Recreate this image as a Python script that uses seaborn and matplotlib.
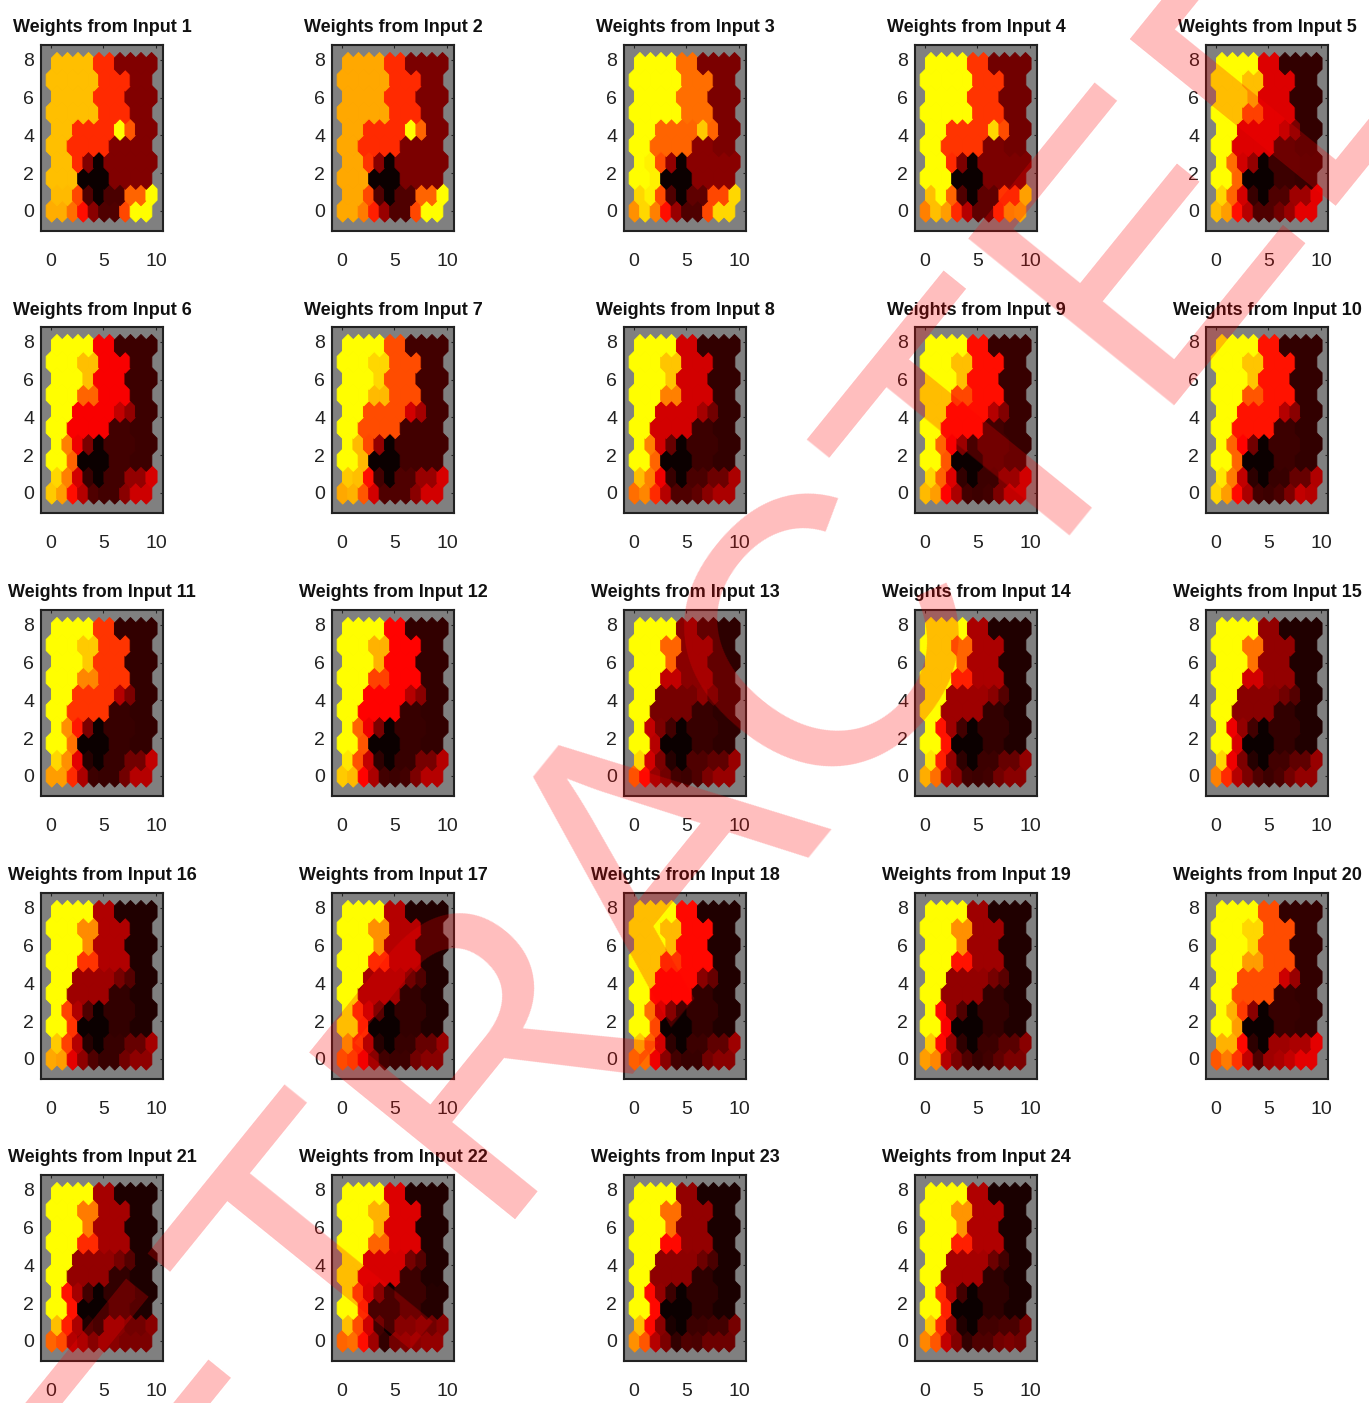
import matplotlib
matplotlib.use('Agg')
import matplotlib.pyplot as plt
from matplotlib.path import Path
import numpy as np
import pandas as pd
import seaborn as sns

sns.set_style('white')
plt.rcParams['font.family'] = ['Liberation Sans', 'DejaVu Sans']

# SOM grid: 10 x 10 neurons, each row listed from the bottom up.
# Neighbouring neurons share a colour in these planes so the cells are grouped
# into regions and each input only lists one level per region.
region_map = [
    [22, 23, 24, 25, 26, 27, 28, 29, 30, 31],
    [15, 16, 17, 18, 10, 19, 19, 20, 20, 21],
    [0, 0, 14, 10, 10, 10, 8, 8, 9, 9],
    [0, 13, 12, 11, 10, 8, 8, 8, 9, 9],
    [0, 0, 4, 4, 4, 4, 8, 8, 7, 7],
    [0, 0, 4, 4, 4, 4, 5, 6, 7, 7],
    [0, 0, 0, 2, 2, 3, 3, 3, 7, 7],
    [0, 0, 0, 1, 3, 3, 3, 7, 7, 7],
    [0, 0, 0, 1, 1, 3, 3, 3, 7, 7],
    [0, 0, 0, 0, 3, 3, 7, 7, 7, 7],
]

# colour level of every region (0 black ... 9 yellow), one list per input
input_levels = [
    [7.6, 7.6, 7.6, 5, 5, 9, 5.8, 2.1, 2.1, 2.1, 0, 2.1, 5, 7.6, 7.6, 7.5, 7.5, 5.5, 1.2, 1.1, 6, 9, 7.3, 7.3, 6.2, 4.5, 2.2, 1.2, 1.2, 5.5, 9, 9],
    [7.2, 7.2, 7.2, 5, 5, 9, 6, 2, 2, 2, 0, 2.2, 5.2, 7.2, 7.2, 7.2, 7.2, 5.5, 1.2, 1.2, 6, 9, 7.2, 7.2, 6.4, 4.8, 2.5, 1.2, 1.2, 5.5, 9, 9],
    [9, 9, 9, 6.2, 6, 7.8, 6, 2, 2.2, 2.2, 0, 2.4, 5.6, 8.5, 8.5, 8, 8.5, 5.6, 1.2, 1.5, 5.5, 8, 6.8, 8, 6.5, 4.5, 2.5, 1.2, 1.2, 5.5, 8, 8],
    [9, 9, 9, 5.2, 5.2, 8, 5.6, 1.8, 2, 2, 0, 2, 5, 9, 9, 7.6, 9, 6, 1.2, 1.5, 5.2, 8, 6.5, 7.6, 7, 5, 3, 1.5, 1.5, 5, 7, 7.2],
    [9, 7.6, 5.8, 3.7, 3.7, 3, 2, 0.7, 0.9, 0.8, 0, 2.4, 3.5, 6.2, 6, 8, 6, 3.5, 0.8, 1.2, 2.6, 3.8, 7.6, 7, 4.5, 3, 1.2, 1.2, 1.8, 2.5, 3.8, 3.8],
    [9, 7.6, 6, 4.2, 4.2, 3.2, 2.4, 0.9, 1, 0.9, 0, 2, 4, 6.5, 6, 8, 6.5, 3.5, 0.8, 1, 2.4, 3.6, 7.8, 7, 4.5, 3, 1.2, 1, 1, 2.2, 3.4, 3.4],
    [9, 8, 7.5, 5.6, 5.6, 3.5, 2.7, 1, 1, 1, 0, 2.4, 5.5, 7.5, 7.5, 7.8, 7.6, 4.5, 1, 1.2, 2.5, 3.6, 7.2, 7.4, 5.8, 3.5, 1.2, 1.2, 1.2, 2.2, 3.5, 3.5],
    [9, 7.7, 6.5, 3.5, 3.5, 2.7, 1.8, 0.7, 0.9, 0.7, 0, 1.6, 3.5, 6.5, 6, 7.6, 6.5, 4, 0.8, 1.1, 1.7, 2.8, 6.2, 6.6, 5, 3, 1.2, 1.2, 1.5, 2.2, 2.8, 2.8],
    [9, 7.6, 5.5, 4.5, 4.5, 3, 2.1, 0.8, 1, 0.8, 0, 2, 4.2, 6, 5.8, 8, 6, 3.7, 0.7, 0.9, 2, 3.2, 7.5, 7, 4.3, 2.8, 1, 0.9, 1, 2, 3.2, 3.2],
    [9, 7.7, 5.8, 4.6, 4.6, 3, 2.2, 0.7, 0.9, 0.7, 0, 1.8, 4.3, 6, 6, 8.3, 6.4, 3.2, 0.6, 0.8, 1.6, 2.9, 8, 7, 4.4, 2.8, 1, 0.9, 1.1, 2, 3.2, 3],
    [9, 7.8, 6.6, 5.2, 5.2, 3, 2, 0.7, 0.8, 0.7, 0, 2, 4.7, 6.8, 6.3, 8, 6.8, 3.8, 0.5, 0.8, 1.8, 3.2, 7, 7, 5, 2.8, 0.9, 0.8, 0.8, 1.8, 3, 3],
    [9, 7.4, 5.4, 4.3, 4.3, 3, 2.2, 0.7, 0.8, 0.7, 0, 2, 4, 6, 5.8, 8.3, 5.7, 3.2, 0.6, 0.8, 1.9, 3, 7.8, 7.5, 4.3, 2.8, 1, 0.9, 1, 2, 3, 3],
    [9, 6, 3.2, 2.2, 1.9, 2.3, 1.5, 0.6, 0.8, 0.6, 0, 1, 2, 3.2, 3, 8, 3.5, 2, 0.5, 1.2, 1.5, 2.5, 6.2, 4.5, 2.5, 1.8, 1, 0.9, 1.2, 2, 2.5, 2.5],
    [9, 6, 4.8, 2.8, 2.6, 2.2, 1.3, 0.4, 0.7, 0.4, 0, 1, 2.6, 4.6, 4.6, 8.3, 4.8, 2.4, 0.6, 0.9, 1.6, 2.4, 7.3, 6.2, 3, 2.2, 1, 0.9, 1, 1.8, 2.2, 2.2],
    [9, 6.3, 3.5, 2.4, 2.2, 1.8, 1.3, 0.4, 0.7, 0.4, 0, 1, 2.4, 4, 3.6, 8, 4, 2, 0.5, 1, 1.5, 2.5, 6.5, 5, 3, 2, 1.2, 0.9, 1.1, 1.8, 2.4, 2.4],
    [9, 6.7, 5.2, 2.9, 2.6, 1.9, 1.3, 0.4, 0.7, 0.4, 0, 1.2, 2.9, 5.4, 5.2, 7.8, 5.4, 3, 0.5, 0.8, 1.6, 2.7, 7.2, 7, 3.8, 2.3, 1.2, 0.8, 0.8, 1.8, 2.3, 2.3],
    [9, 6.8, 5, 3, 2.7, 1.8, 1.2, 0.4, 0.7, 0.4, 0, 1.4, 3.2, 5.2, 5, 7.2, 5.2, 3, 0.5, 0.8, 1.6, 2.5, 6, 5.6, 4, 2.2, 1, 0.9, 0.9, 1.8, 2.2, 2.2],
    [9, 7.5, 5.2, 4.4, 4.4, 2.2, 1.6, 0.4, 0.7, 0.4, 0, 1.5, 3.5, 6.2, 5.5, 7.8, 6, 3.5, 0.6, 0.9, 1.5, 2.6, 6.5, 6.2, 4, 2.2, 1, 0.8, 0.8, 1.8, 2.2, 2.2],
    [9, 6.8, 4.6, 2.6, 2.4, 1.9, 1.4, 0.4, 0.7, 0.4, 0, 1.2, 2.4, 4.4, 4.2, 7.8, 4.4, 2.4, 0.6, 0.9, 1.4, 2.2, 7, 6.6, 3, 2, 1.2, 0.8, 1, 1.5, 2, 2],
    [9, 8, 7, 5.6, 5.6, 3.4, 2.5, 0.7, 0.8, 0.7, 0, 2.2, 5.3, 7.4, 7, 7.4, 7.4, 4.4, 0.6, 2.6, 2.8, 3.8, 5.8, 6.4, 5.2, 3.2, 1.2, 2.6, 2.8, 3.2, 3.8, 3.8],
    [9, 6.4, 5, 2.7, 2.4, 1.9, 1.3, 0.35, 0.7, 0.35, 0, 1, 2.7, 4.6, 4.6, 7.6, 4.8, 2.8, 0.4, 2.2, 1.8, 2.2, 6, 5.6, 3, 2.4, 1.5, 2.2, 2.2, 2, 2, 2],
    [9, 7.4, 6, 3.7, 3.6, 1.9, 1.3, 0.4, 0.9, 0.5, 0, 1.6, 3.4, 5.6, 5, 7.6, 5.6, 3.4, 1, 1.5, 1.8, 2.2, 6, 6.2, 4.5, 2.6, 0.7, 1.8, 2, 2.2, 2.4, 2.4],
    [9, 6.2, 4.4, 2.4, 2.3, 1.7, 1.1, 0.3, 0.6, 0.3, 0, 0.9, 2.4, 4.4, 4.4, 7.6, 4.4, 2.2, 0.3, 0.9, 1, 1.9, 6.8, 5.8, 3, 2, 0.7, 1.2, 1.1, 1.7, 1.7, 1.7],
    [9, 6.9, 4.8, 2.9, 2.7, 1.7, 1, 0.3, 0.6, 0.3, 0, 1, 2.8, 5, 4.8, 7.8, 5, 2.3, 0.4, 1, 1.1, 1.8, 6.6, 5.8, 3.2, 2.1, 0.7, 1.2, 1.2, 1.8, 2, 1.8],
]

x_ticks = [0, 5, 10]
y_ticks = [0, 2, 4, 6, 8]

# panel positions in pixels of the 1369x1403 picture
panel_lefts = [41, 332, 624, 915, 1206]
panel_tops = [45, 327, 610, 893, 1175]
fig_w, fig_h = 1369, 1403
panel_w, panel_h = 122, 186

# hexagon stretched like the squashed screenshot (10.5 px per x unit, 18.9 px per y unit)
half_w = 0.5
shift = 0.07
hexagon = Path([(shift, 1), (half_w + shift, 0.5), (half_w + shift, -0.5), (shift, -1),
                (shift - half_w, -0.5), (shift - half_w, 0.5), (shift, 1)], closed=True)

# grid coordinates, odd rows shifted by half a cell
rows, cols = np.indices((10, 10))
grid_x = (cols + 0.5 * (rows % 2)).ravel()
grid_y = (rows * np.sqrt(3) / 2).ravel()
regions = np.array(region_map).ravel()

fig = plt.figure(figsize=(fig_w / 100, fig_h / 100), dpi=100, facecolor='white')

for n, levels in enumerate(input_levels):
    left = panel_lefts[n % 5]
    top = panel_tops[n // 5]
    ax = fig.add_axes([left / fig_w, 1 - (top + panel_h) / fig_h, panel_w / fig_w, panel_h / fig_h])

    # top level stops at pure yellow, 'hot' goes towards white beyond it
    cell_levels = np.minimum(np.array(levels)[regions], 8.7)
    df = pd.DataFrame({'x': grid_x, 'y': grid_y, 'level': cell_levels})
    sns.scatterplot(data=df, x='x', y='y', hue='level', palette='hot', hue_norm=(0, 11.7),
                    marker=hexagon, s=255, linewidth=0.7, edgecolor='face', legend=False, ax=ax)

    ax.set_facecolor('#808080')
    ax.set_xlim(-0.95, 10.67)
    ax.set_ylim(-1.06, 8.78)
    ax.set_xticks(x_ticks)
    ax.set_yticks(y_ticks)
    ax.set_xlabel('')
    ax.set_ylabel('')
    ax.tick_params(axis='x', direction='in', length=2, width=0.8, top=True, pad=16, labelsize=14, labelcolor='#222222')
    ax.tick_params(axis='y', direction='in', length=2, width=0.8, right=True, pad=5, labelsize=14, labelcolor='#222222')
    for spine in ax.spines.values():
        spine.set_color('#222222')
        spine.set_linewidth(1.5)
    ax.set_title(f'Weights from Input {n + 1}', fontsize=13, fontweight='bold', color='#111111', pad=9)

# watermark across the whole figure
fig.text(663 / fig_w, 1 - 840 / fig_h, 'RETRACTED', family='Liberation Sans', fontsize=277,
         color='red', alpha=0.26, rotation=51, rotation_mode='anchor', ha='center', va='center')

fig.savefig('out.png', dpi=100)
